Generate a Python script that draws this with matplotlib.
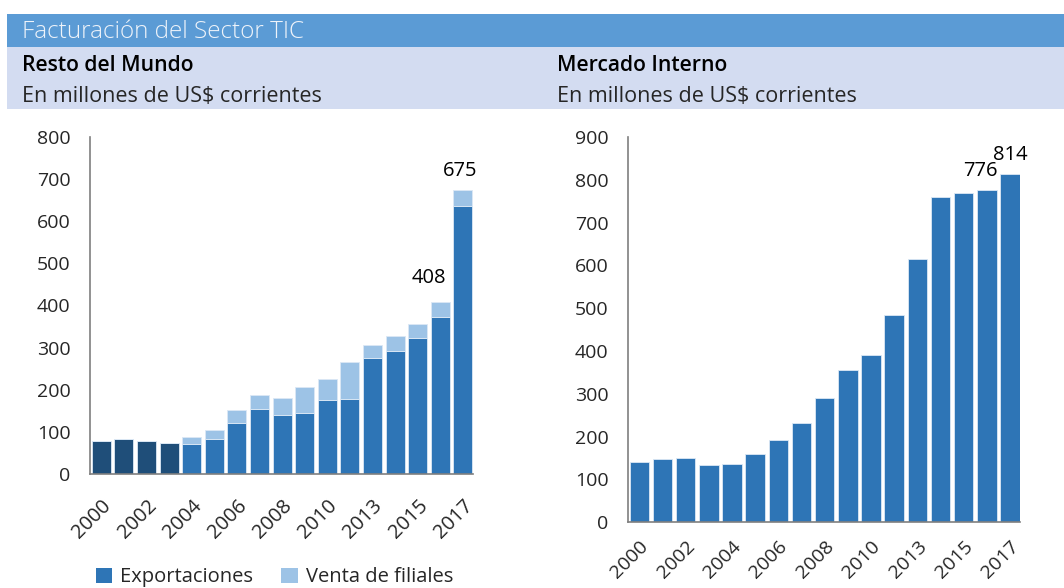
import matplotlib
matplotlib.use("Agg")
import matplotlib.pyplot as plt
from matplotlib.patches import Rectangle, Patch

plt.rcParams['font.family'] = ['Open Sans', 'DejaVu Sans']

years = ["2000", "2001", "2002", "2003", "2004", "2005", "2006", "2007", "2008",
         "2009", "2010", "2012", "2013", "2014", "2015", "2016", "2017"]
tick_labels = ["2000", "", "2002", "", "2004", "", "2006", "", "2008", "",
               "2010", "", "2013", "", "2015", "", "2017"]

# Resto del Mundo
exportaciones = [79, 82, 79, 74, 72, 82, 121, 153, 139, 144, 176, 179, 276, 293, 322, 372, 636]
venta_filiales = [0, 0, 0, 0, 15, 23, 30, 34, 41, 63, 49, 86, 31, 35, 34, 36, 39]
rm_labels = {15: "408", 16: "675"}

# Mercado Interno
mercado_interno = [141, 147, 151, 133, 136, 160, 192, 232, 289, 355, 390, 483, 615, 760, 770, 776, 814]
mi_labels = {15: "776", 16: "814"}

c_dark = "#1F4E79"
c_exp = "#2E75B6"
c_fil = "#9DC3E6"
c_text = "#262626"

fig = plt.figure(figsize=(10.64, 5.88), dpi=100)

# header bands
fig.patches.append(Rectangle((0.0066, 0.920), 0.9934, 0.056, transform=fig.transFigure,
                             facecolor="#5B9BD5", edgecolor="none", zorder=0))
fig.patches.append(Rectangle((0.0066, 0.8146), 0.9934, 0.1054, transform=fig.transFigure,
                             facecolor="#D3DCF1", edgecolor="none", zorder=0))
fig.text(0.0207, 0.945, "Facturación del Sector TIC", color="#EEF3FA", fontsize=17.5,
         fontweight="light", va="center", ha="left")
fig.text(0.0207, 0.889, "Resto del Mundo", color="black", fontsize=15.2,
         fontweight="semibold", va="center", ha="left")
fig.text(0.0207, 0.836, "En millones de US$ corrientes", color=c_text, fontsize=15.5,
         va="center", ha="left")
fig.text(0.5235, 0.889, "Mercado Interno", color="black", fontsize=15.2,
         fontweight="semibold", va="center", ha="left")
fig.text(0.5235, 0.836, "En millones de US$ corrientes", color=c_text, fontsize=15.5,
         va="center", ha="left")

x = list(range(len(years)))
w = 0.84

def style(ax, ymax, xpad, xsize):
    ax.set_xlim(-0.5, len(years) - 0.55)
    ax.set_ylim(0, ymax)
    for s in ["top", "right"]:
        ax.spines[s].set_visible(False)
    for s in ["left", "bottom"]:
        ax.spines[s].set_color("#7F7F7F")
        ax.spines[s].set_linewidth(1.2)
    ax.tick_params(axis="both", length=0, colors=c_text)
    ax.tick_params(axis="y", pad=14, labelsize=14)
    ax.tick_params(axis="x", pad=xpad, labelsize=xsize)
    ax.set_xticks(x)
    ax.set_xticklabels(tick_labels, rotation=45, ha="right", rotation_mode="anchor")

# Left axes
ax1 = fig.add_axes([0.0846, 0.194, 0.36, 0.573])
exp_colors = [c_dark if i < 4 else c_exp for i in x]
ax1.bar(x, exportaciones, width=w, color=exp_colors, edgecolor="#DCE8F5", linewidth=0.6)
ax1.bar(x, venta_filiales, width=w, bottom=exportaciones, color=c_fil,
        edgecolor="#DCE8F5", linewidth=0.6)
ax1.set_yticks(range(0, 801, 100))
style(ax1, 800, 16, 14.5)
offsets1 = {15: (-11, 14), 16: (-3, 9)}
for i, lab in rm_labels.items():
    top = exportaciones[i] + venta_filiales[i]
    ax1.annotate(lab, (i, top), xytext=offsets1[i], textcoords="offset pixels",
                 ha="center", va="bottom", fontsize=14.5, color="black")

# Right axes
ax2 = fig.add_axes([0.590, 0.112, 0.369, 0.655])
ax2.bar(x, mercado_interno, width=w, color=c_exp, edgecolor="#DCE8F5", linewidth=0.6)
ax2.set_yticks(range(0, 901, 100))
style(ax2, 900, 11, 14)
offsets2 = {15: (-6, 9), 16: (0, 9)}
for i, lab in mi_labels.items():
    ax2.annotate(lab, (i, mercado_interno[i]), xytext=offsets2[i], textcoords="offset pixels",
                 ha="center", va="bottom", fontsize=14.5, color="black")

handles = [Patch(facecolor=c_exp, label="Exportaciones"),
           Patch(facecolor=c_fil, label="Venta de filiales")]
fig.legend(handles=handles, loc="center", bbox_to_anchor=(0.258, 0.018), ncol=2,
           frameon=False, fontsize=14.5, handlelength=0.8, handleheight=0.8,
           handletextpad=0.4, columnspacing=1.4, labelcolor=c_text)

fig.savefig("out.png", dpi=100)
